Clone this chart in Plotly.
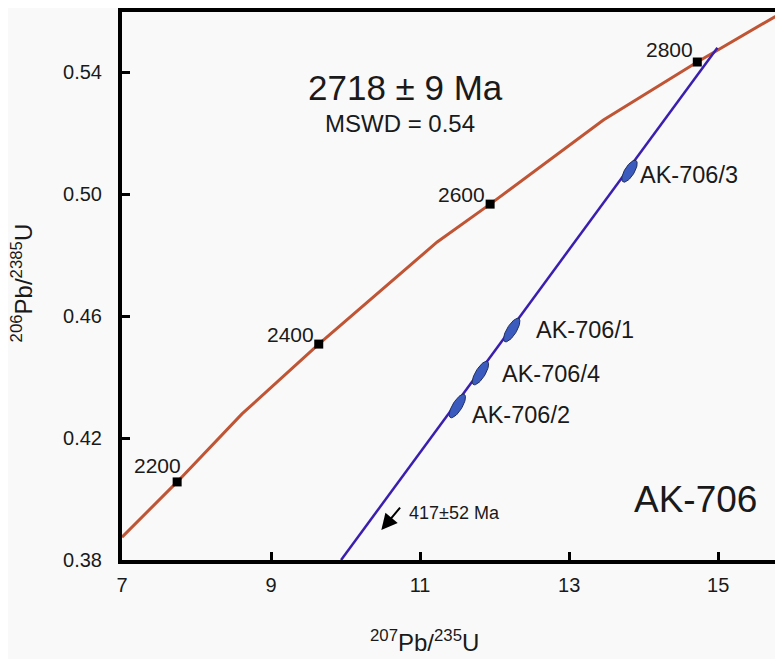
import numpy as np
import plotly.graph_objects as go

# ---------------- data ----------------
concordia_x = [7.00, 7.74, 8.61, 9.64, 11.23, 11.94, 13.46, 14.72, 15.87]
concordia_y = [0.3875, 0.4056, 0.4279, 0.4508, 0.4843, 0.4967, 0.5243, 0.5433, 0.5597]

age_labels = ["2200", "2400", "2600", "2800"]
age_x = [7.74, 9.64, 11.94, 14.72]
age_y = [0.4056, 0.4508, 0.4967, 0.5433]
age_label_x = [7.48, 9.255, 11.55, 14.35]
age_label_y = [0.4111, 0.4541, 0.5000, 0.5475]

discordia_x = [9.94, 14.99]
discordia_y = [0.380, 0.548]

sample_names = ["AK-706/3", "AK-706/1", "AK-706/4", "AK-706/2"]
sample_x = [13.81, 12.23, 11.81, 11.50]
sample_y = [0.5075, 0.4554, 0.4413, 0.4305]
sample_label_x = [13.93, 12.53, 12.07, 11.67]
sample_label_y = [0.5062, 0.4554, 0.4410, 0.4275]

x_ticks = [7, 9, 11, 13, 15]
y_ticks = [0.38, 0.42, 0.46, 0.50, 0.54]
x_range = [7.0, 15.87]
y_range = [0.38, 0.5597]

# ---------------- styling ----------------
FONT = "Liberation Sans, Arial, sans-serif"
TXT = "#1a1a1a"
BG = "#f9f9f9"
PX_PER_X = 74.5     # pixels per x unit in the plot area
PX_PER_Y = 3050.0   # pixels per y unit

fig = go.Figure()

# concordia
fig.add_trace(go.Scatter(x=concordia_x, y=concordia_y, mode="lines",
                         line=dict(color="#bf5535", width=3), hoverinfo="skip"))
# discordia
fig.add_trace(go.Scatter(x=discordia_x, y=discordia_y, mode="lines",
                         line=dict(color="#3a1fae", width=2.5), hoverinfo="skip"))

# error ellipses (shape drawn around each data centre, sizes in pixels)
u = np.array([377.0, -511.0]); u /= np.linalg.norm(u)
ang = np.deg2rad(-5)
rot = np.array([[np.cos(ang), -np.sin(ang)], [np.sin(ang), np.cos(ang)]])
u = rot @ u
v = np.array([-u[1], u[0]])
t = np.linspace(0, 2 * np.pi, 60)
for i, (cx, cy) in enumerate(zip(sample_x, sample_y)):
    a = 12.5 if i == 0 else 13.5
    b = 4.8
    px = a * np.cos(t) * u[0] + b * np.sin(t) * v[0]
    py = a * np.cos(t) * u[1] + b * np.sin(t) * v[1]
    fig.add_trace(go.Scatter(x=cx + px / PX_PER_X, y=cy - py / PX_PER_Y, mode="lines",
                             fill="toself", fillcolor="#3c5bbf",
                             line=dict(color="#1f2d5c", width=1), hoverinfo="skip"))

# age markers
fig.add_trace(go.Scatter(x=age_x, y=age_y, mode="markers",
                         marker=dict(symbol="square", size=9, color="black"), hoverinfo="skip"))

annotations = []
for lab, lx, ly in zip(age_labels, age_label_x, age_label_y):
    annotations.append(dict(x=lx, y=ly, text=lab, showarrow=False, xanchor="center",
                            yanchor="middle", font=dict(size=21, color=TXT, family=FONT)))
for lab, lx, ly in zip(sample_names, sample_label_x, sample_label_y):
    annotations.append(dict(x=lx, y=ly, text=lab, showarrow=False, xanchor="left",
                            yanchor="middle", font=dict(size=23.5, color=TXT, family=FONT)))

annotations += [
    dict(x=10.80, y=0.5351, text="2718 ± 9 Ma", showarrow=False, xanchor="center", yanchor="middle",
         font=dict(size=35, color=TXT, family=FONT)),
    dict(x=10.73, y=0.5233, text="MSWD = 0.54", showarrow=False, xanchor="center", yanchor="middle",
         font=dict(size=24, color=TXT, family=FONT)),
    dict(x=14.70, y=0.4000, text="AK-706", showarrow=False, xanchor="center", yanchor="middle",
         font=dict(size=37, color=TXT, family=FONT)),
    dict(x=10.83, y=0.3954, text="417±52 Ma", showarrow=False, xanchor="left", yanchor="middle",
         font=dict(size=18, color=TXT, family=FONT)),
    dict(x=10.48, y=0.3898, text="", showarrow=True, ax=20, ay=-24, arrowhead=2,
         arrowsize=1.6, arrowwidth=2, arrowcolor="black"),
    dict(x=-0.151, y=0.505, xref="paper", yref="paper", textangle=-90,
         xanchor="center", yanchor="middle",
         text="<sup>206</sup>Pb/<sup>2385</sup>U", showarrow=False,
         font=dict(size=24, color=TXT, family=FONT)),
    dict(x=0.457, y=-0.148, xref="paper", yref="paper",
         xanchor="center", yanchor="middle",
         text="<sup>207</sup>Pb/<sup>235</sup>U", showarrow=False,
         font=dict(size=24, color=TXT, family=FONT)),
]

# page body has an 8px default margin: figure is 8px smaller, margins shifted accordingly
fig.update_layout(
    width=775, height=651,
    margin=dict(l=114, r=0, t=4, b=99),
    paper_bgcolor=BG, plot_bgcolor=BG,
    showlegend=False,
    annotations=annotations,
    font=dict(family=FONT, color=TXT),
)
fig.update_xaxes(range=x_range, tickvals=x_ticks, ticks="inside", ticklen=8, tickwidth=2.5,
                 tickcolor="black", showline=True, linewidth=4, linecolor="black", mirror=True,
                 showgrid=False, zeroline=False, tickfont=dict(size=20, color=TXT, family=FONT),
                 ticklabelstandoff=4)
fig.update_yaxes(range=y_range, tickvals=y_ticks, tickformat=".2f", ticks="inside", ticklen=8,
                 tickwidth=2.5, tickcolor="black", showline=True, linewidth=4, linecolor="black",
                 mirror=False, showgrid=False, zeroline=False,
                 tickfont=dict(size=20, color=TXT, family=FONT), ticklabelstandoff=12)

fig.write_html("out.html")
